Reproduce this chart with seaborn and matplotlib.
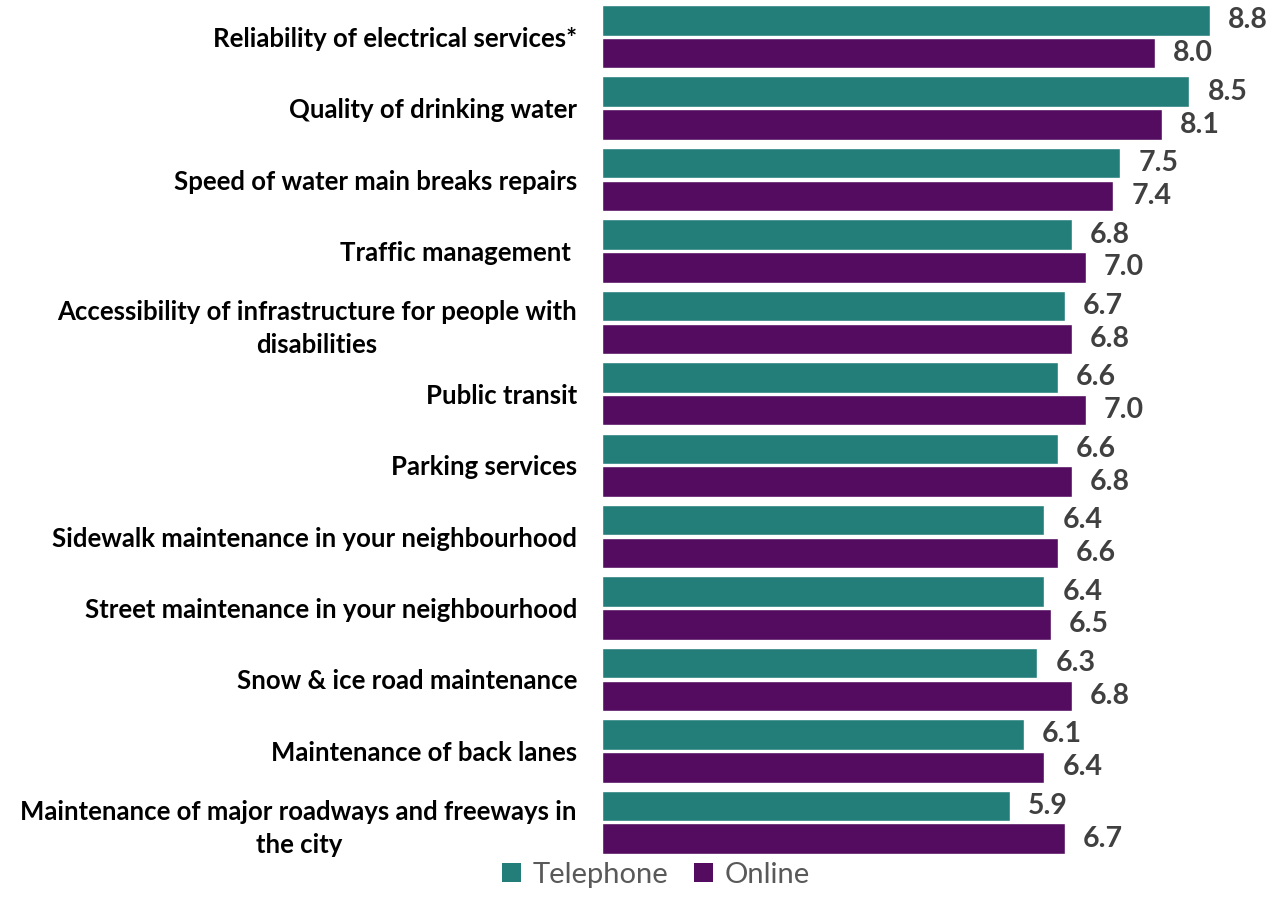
import matplotlib
matplotlib.use("Agg")
import matplotlib.pyplot as plt
import seaborn as sns
import pandas as pd
from matplotlib.patches import Patch

categories = [
    "Reliability of electrical services*",
    "Quality of drinking water",
    "Speed of water main breaks repairs",
    "Traffic management ",
    "Accessibility of infrastructure for people with\ndisabilities",
    "Public transit",
    "Parking services",
    "Sidewalk maintenance in your neighbourhood",
    "Street maintenance in your neighbourhood",
    "Snow & ice road maintenance",
    "Maintenance of back lanes",
    "Maintenance of major roadways and freeways in\nthe city",
]
telephone = [8.8, 8.5, 7.5, 6.8, 6.7, 6.6, 6.6, 6.4, 6.4, 6.3, 6.1, 5.9]
online = [8.0, 8.1, 7.4, 7.0, 6.8, 7.0, 6.8, 6.6, 6.5, 6.8, 6.4, 6.7]
series = ["Telephone", "Online"]
colors = {"Telephone": "#237E7A", "Online": "#530C5F"}

df = pd.DataFrame({
    "category": categories * 2,
    "value": telephone + online,
    "mode": ["Telephone"] * len(categories) + ["Online"] * len(categories),
})

sns.set_theme(style="white")
plt.rcParams["font.family"] = ["Lato", "DejaVu Sans"]

W, H = 1282, 916
fig = plt.figure(figsize=(W / 100, H / 100), dpi=100)
ax = fig.add_axes([602 / W, 58 / H, 1 - 602 / W, 857 / H])

sns.barplot(data=df, y="category", x="value", hue="mode", order=categories,
            hue_order=series, palette=colors, orient="h", width=0.92, gap=0.07,
            ax=ax, legend=False, saturation=1)

ax.set_xlim(0, 9.84)
ax.set_ylim(11.5, -0.5)
ax.set_xlabel("")
ax.set_ylabel("")
ax.set_xticks([])
for s in ax.spines.values():
    s.set_visible(False)

ax.tick_params(axis="y", length=0, pad=18)
for lab in ax.get_yticklabels():
    lab.set_fontsize(18.5)
    lab.set_fontweight("bold")
    lab.set_color("#000000")
    lab.set_multialignment("center")
    lab.set_linespacing(1.45)

for cont in ax.containers:
    ax.bar_label(cont, fmt="%.1f", padding=13, fontsize=20.5, fontweight="bold",
                 color="#404040")

handles = [Patch(facecolor=colors[s], edgecolor="none") for s in series]
leg = fig.legend(handles, series, loc="center", bbox_to_anchor=(656 / W, 41 / H),
                 ncol=2, frameon=False, fontsize=21, handlelength=0.65, handleheight=0.65,
                 handletextpad=0.4, columnspacing=0.9)
for t in leg.get_texts():
    t.set_color("#595959")

fig.savefig("out.png", dpi=100)
